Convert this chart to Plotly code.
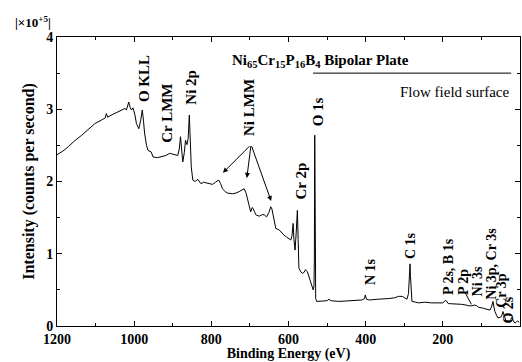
import plotly.graph_objects as go

# Binding energy (eV) and intensity (x10^5 counts per second)
binding_energy = [
    1200, 1185, 1171, 1155, 1136, 1120, 1102, 1085, 1075, 1072, 1069, 1055, 1042, 1029, 1024, 1020,
    1014, 1010, 1007, 1003, 998, 994, 988, 983, 979, 976, 973, 968, 964, 956, 951, 940, 929, 918,
    908, 897, 887, 883, 880, 877, 874, 870, 867, 863, 860, 857, 855, 852, 848, 842, 835, 827, 820,
    813, 805, 797, 789, 781, 776, 771, 764, 758, 745, 736, 728, 720, 715, 710, 706, 702, 698, 694,
    692, 688, 685, 676, 669, 663, 657, 651, 646, 643, 640, 636, 633, 624, 618, 612, 605, 599, 594,
    591, 588, 586, 583, 580, 577, 575, 573, 568, 564, 560, 556, 551, 547, 543, 539, 536, 534, 533,
    532, 531, 529.5, 527, 520, 510, 500, 495, 490, 470, 450, 427, 410, 403, 401, 398, 390, 370, 358,
    340, 325, 315, 305, 298, 293, 289, 286, 285, 284, 282, 280, 270, 263, 246, 230, 212, 200, 194,
    191, 186, 170, 151, 140, 134, 125, 117, 112, 108, 98, 87, 78, 74, 70, 67, 65, 60, 57, 52, 48,
    44, 41, 37, 32, 27, 24, 21, 17, 13, 9, 6, 2,
]
intensity = [
    2.37, 2.42, 2.48, 2.56, 2.64, 2.72, 2.80, 2.85, 2.88, 2.94, 2.89, 2.93, 2.96, 2.99, 3.01, 2.99,
    3.10, 3.02, 2.99, 3.02, 2.92, 2.80, 2.73, 2.85, 2.99, 2.85, 2.67, 2.50, 2.43, 2.41, 2.34, 2.33,
    2.34, 2.36, 2.39, 2.37, 2.36, 2.45, 2.62, 2.45, 2.27, 2.40, 2.57, 2.51, 2.60, 2.92, 2.55, 2.20,
    2.02, 2.00, 2.03, 1.97, 1.99, 1.98, 1.97, 1.96, 1.99, 2.02, 1.97, 1.90, 1.86, 1.84, 1.83, 1.84,
    1.86, 1.88, 1.90, 1.84, 1.76, 1.70, 1.58, 1.64, 1.63, 1.58, 1.54, 1.52, 1.54, 1.54, 1.51, 1.57,
    1.65, 1.62, 1.54, 1.42, 1.35, 1.33, 1.29, 1.26, 1.23, 1.21, 1.19, 1.25, 1.42, 1.20, 1.05, 1.30,
    1.60, 1.20, 0.80, 0.75, 0.73, 0.74, 0.78, 0.75, 0.68, 0.60, 0.52, 0.50, 0.55, 0.90, 2.64, 1.20,
    0.38, 0.34, 0.34, 0.34, 0.35, 0.37, 0.35, 0.34, 0.35, 0.36, 0.36, 0.38, 0.43, 0.37, 0.36, 0.37,
    0.37, 0.38, 0.39, 0.41, 0.41, 0.39, 0.37, 0.45, 0.75, 0.86, 0.70, 0.40, 0.34, 0.33, 0.32, 0.33,
    0.32, 0.32, 0.32, 0.35, 0.35, 0.31, 0.31, 0.30, 0.29, 0.28, 0.28, 0.29, 0.28, 0.26, 0.25, 0.23,
    0.22, 0.26, 0.34, 0.25, 0.20, 0.14, 0.11, 0.12, 0.13, 0.20, 0.14, 0.08, 0.07, 0.06, 0.09, 0.12,
    0.07, 0.04, 0.06, 0.07, 0.05,
]

# Peak labels: text, position (BE, intensity)
peak_labels = ["O KLL", "Cr LMM", "Ni 2p", "Ni LMM", "Cr 2p", "O 1s", "N 1s", "C 1s",
               "P 2s, B 1s", "P 2p", "Ni 3s", "Ni 3p, Cr 3s", "Cr 3p", "O 2s"]
label_be = [974, 915, 855, 702, 570, 523, 389, 282, 187, 145, 109, 73, 47, 30]
label_int = [3.42, 2.95, 3.30, 3.02, 2.00, 2.96, 0.76, 1.11, 0.83, 0.61, 0.63, 0.86, 0.50, 0.22]
label_size = [15, 15, 15, 15, 15, 15, 14, 14, 14, 14, 14, 14, 14, 14]

# Ni LMM arrows: tail and heads
arrow_tail = (697, 2.51)
arrow_head_be = [770, 708, 645]
arrow_head_int = [2.12, 2.05, 1.73]

x_ticks = [1200, 1000, 800, 600, 400, 200, 0]
y_ticks = [0, 1, 2, 3, 4]

FONT = "Liberation Serif"

fig = go.Figure()
fig.add_trace(go.Scatter(x=binding_energy, y=intensity, mode="lines",
                         line=dict(color="black", width=1), showlegend=False,
                         hoverinfo="skip"))

annotations = []
for t, bx, by, fs in zip(peak_labels, label_be, label_int, label_size):
    annotations.append(dict(x=bx, y=by, xref="x", yref="y", text="<b>%s</b>" % t,
                            showarrow=False, textangle=-90,
                            font=dict(family=FONT, size=fs, color="black")))
for hx, hy in zip(arrow_head_be, arrow_head_int):
    annotations.append(dict(x=hx, y=hy, xref="x", yref="y", ax=arrow_tail[0], ay=arrow_tail[1],
                            axref="x", ayref="y", text="", showarrow=True, arrowhead=2,
                            arrowsize=1, arrowwidth=1, arrowcolor="black", standoff=0))

annotations.append(dict(x=0.765, y=0.955, xref="paper", yref="paper",
                        text="<b>Ni<sub>65</sub>Cr<sub>15</sub>P<sub>16</sub>B<sub>4</sub> Bipolar Plate</b>",
                        showarrow=False, font=dict(family=FONT, size=15, color="black")))
annotations.append(dict(x=0.98, y=0.844, xref="paper", yref="paper", xanchor="right",
                        text="Flow field surface", showarrow=False,
                        font=dict(family=FONT, size=15, color="black")))
annotations.append(dict(x=-0.095, y=1.085, xref="paper", yref="paper", xanchor="left",
                        text="<b>|×10<sup>+5</sup>|</b>", showarrow=False,
                        font=dict(family=FONT, size=13, color="black")))

shapes = [
    dict(type="line", xref="paper", yref="paper", x0=0.553, x1=0.981, y0=0.875, y1=0.875,
         line=dict(color="black", width=1)),
    dict(type="line", xref="x", yref="y", x0=142, y0=0.46, x1=126, y1=0.30,
         line=dict(color="black", width=1)),
]

axis_common = dict(showline=True, linecolor="black", linewidth=1, mirror="allticks",
                   ticks="inside", ticklen=5, tickcolor="black", showgrid=False, zeroline=False,
                   tickfont=dict(family=FONT, size=14, color="black"))

fig.update_layout(
    width=522, height=362,
    margin=dict(l=57, r=2, t=37, b=36),
    plot_bgcolor="white", paper_bgcolor="white",
    xaxis=dict(range=[1200, 0], tickvals=x_ticks, ticktext=["<b>%d</b>" % v for v in x_ticks],
               minor=dict(dtick=100, ticks="inside", ticklen=3, tickcolor="black"),
               title=dict(text="<b>Binding Energy (eV)</b>", standoff=2,
                          font=dict(family=FONT, size=14, color="black")),
               **axis_common),
    yaxis=dict(range=[0, 4], tickvals=y_ticks, ticktext=["<b>%d</b>" % v for v in y_ticks],
               minor=dict(dtick=0.5, ticks="inside", ticklen=3, tickcolor="black"),
               title=dict(text="<b>Intensity (counts per second)</b>", standoff=7,
                          font=dict(family=FONT, size=16, color="black")),
               **axis_common),
    annotations=annotations,
    shapes=shapes,
)

fig.write_html("out.html")
